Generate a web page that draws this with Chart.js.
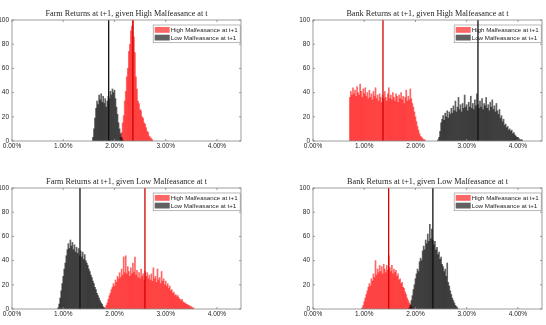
<!DOCTYPE html>
<html><head><meta charset="utf-8">
<script src="https://cdn.jsdelivr.net/npm/chart.js@4.4.1/dist/chart.umd.min.js"></script>
<style>
html,body{margin:0;padding:0;background:#fff;}
body{width:546px;height:325px;overflow:hidden;position:relative;}
canvas{position:absolute;}
</style></head><body>
<canvas id="c1" width="255" height="159" style="left:-12px;top:0px;width:255px;height:159px"></canvas>
<canvas id="c2" width="255" height="159" style="left:289px;top:0px;width:255px;height:159px"></canvas>
<canvas id="c3" width="255" height="159" style="left:-12px;top:168px;width:255px;height:159px"></canvas>
<canvas id="c4" width="255" height="159" style="left:289px;top:168px;width:255px;height:159px"></canvas>
<script>
// ---------- data ----------
const binWidth = 0.02;               // histogram bin width, in percent
const xTicks = [0, 1, 2, 3, 4];      // x tick values (percent)
const yTicks = [0, 20, 40, 60, 80, 100];
const legendLabels = ['High Malfeasance at t+1', 'Low Malfeasance at t+1'];
const titles = [
  'Farm Returns at t+1, given High Malfeasance at t',
  'Bank Returns at t+1, given High Malfeasance at t',
  'Farm Returns at t+1, given Low Malfeasance at t',
  'Bank Returns at t+1, given Low Malfeasance at t'
];

// Panel 1: Farm, High at t
const farmHighRedStart = 2.12;
const farmHighRed = [3,7,15,21,33,41,53,60,74,80,91,95,100,86,73,53,43,33,31,26,25,20,19,15,14,11,8,7,4,3,2,1];
const farmHighBlackStart = 1.58;
const farmHighBlack = [3,10,19,27,33,30,38,34,39,32,37,31,35,28,33,37,35,41,38,43,40,42,35,28,22,15,10,6,3,1];
const farmHighMeans = [2.36, 1.887];

// Panel 2: Bank, High at t
const bankHighRedStart = 0.72;
const bankHighRed = [36,41,38,44,39,42,37,45,40,38,47,41,36,43,39,44,37,40,35,42,
  36,39,34,41,37,44,35,38,33,39,36,32,38,35,41,36,33,39,44,35,
  38,34,40,36,33,39,37,32,38,35,40,34,37,31,36,42,33,37,34,43,
  35,31,28,24,20,16,12,9,6,4,3,2,1,1];
const bankHighBlackStart = 2.44;
const bankHighBlack = [1,3,8,15,18,21,17,23,20,25,19,24,22,27,23,29,25,33,24,28,
  36,26,30,24,31,27,38,28,30,25,32,28,37,27,31,26,34,29,39,30,
  27,33,28,35,26,31,29,36,27,30,25,32,28,34,26,29,24,31,25,22,
  26,19,21,16,18,13,14,11,12,9,10,8,9,6,7,5,4,3,3,2,1,1,1];
const bankHighMeans = [1.366, 3.22];

// Panel 3: Farm, Low at t
const farmLowRedStart = 1.82;
const farmLowRed = [1,3,5,8,11,13,16,18,21,19,24,22,27,25,30,26,33,28,43,30,
  44,29,35,31,27,34,29,38,30,43,28,32,26,30,25,33,27,29,24,31,
  27,30,25,28,24,29,23,34,25,27,22,33,24,26,21,31,23,25,20,23,
  19,21,17,19,15,16,13,14,11,12,10,11,9,8,7,8,6,5,5,4,4,3,3,2,2,1,1];
const farmLowBlackStart = 0.90;
const farmLowBlack = [1,4,9,15,21,27,33,38,44,49,54,50,57,52,55,49,53,47,51,46,
  50,44,48,43,47,41,45,40,38,36,33,31,28,26,23,21,18,16,13,11,9,7,5,4,2,1];
const farmLowMeans = [2.595, 1.327];

// Panel 4: Bank, Low at t
const bankLowRedStart = 0.96;
const bankLowRed = [1,3,6,9,12,15,18,21,19,25,23,29,26,40,28,33,30,36,31,35,
  29,37,33,30,36,32,44,34,31,36,29,33,30,32,27,29,24,25,21,22,
  18,17,14,12,9,7,5,4,2,1];
const bankLowBlackStart = 1.88;
const bankLowBlack = [1,3,7,11,16,20,25,29,33,31,39,42,40,48,52,49,57,54,62,56,
  70,58,66,57,53,56,49,51,45,47,41,43,37,35,31,33,27,38,22,19,
  15,12,9,7,5,3,2,1];
const bankLowMeans = [1.477, 2.34];

// ---------- styling ----------
const RED_FILL = 'rgba(255,0,0,0.6)';
const BLACK_FILL = 'rgba(0,0,0,0.62)';
const RED_LINE = '#d40000';
const BLACK_LINE = '#111111';
const TEXT = '#262626';
const FRAME = '#858585';

Chart.defaults.font.family = "'Liberation Sans', Arial, sans-serif";
Chart.defaults.color = TEXT;

function toBins(start, vals) {
  return vals.map((v, i) => ({ x: Math.round((start + i * binWidth) * 100) / 100, y: v }));
}

const panelPlugin = {
  id: 'panelDeco',
  beforeDatasetsDraw(chart, args, opts) {
    const { ctx, chartArea: a } = chart;
    const bw = 87, bh = 17.7;
    const bx = a.right - bw - 0.8, by = a.top + 5;
    ctx.save();
    ctx.fillStyle = '#ffffff';
    ctx.fillRect(bx, by, bw, bh);
    ctx.strokeStyle = '#9a9a9a';
    ctx.lineWidth = 0.7;
    ctx.strokeRect(bx, by, bw, bh);
    const ds = chart.data.datasets.filter(d => d.type !== 'line');
    ds.forEach((d, i) => {
      const sy = by + 2 + i * 7.7;
      ctx.fillStyle = d.backgroundColor;
      ctx.fillRect(bx + 1.5, sy, 15, 5.8);
      ctx.fillStyle = TEXT;
      ctx.font = "6.2px 'Liberation Sans', Arial, sans-serif";
      ctx.textBaseline = 'middle';
      ctx.textAlign = 'left';
      ctx.fillText(d.label, bx + 17.5, sy + 3.1);
    });
    ctx.restore();
  },
  afterDraw(chart, args, opts) {
    const { ctx, chartArea: a, scales: { x, y } } = chart;
    ctx.save();
    ctx.strokeStyle = FRAME;
    ctx.lineWidth = 0.8;
    ctx.strokeRect(a.left, a.top, a.right - a.left, a.bottom - a.top);
    ctx.beginPath();
    x.ticks.forEach(t => {
      const px = x.getPixelForValue(t.value);
      ctx.moveTo(px, a.bottom); ctx.lineTo(px, a.bottom - 2);
      ctx.moveTo(px, a.top); ctx.lineTo(px, a.top + 2);
    });
    y.ticks.forEach(t => {
      const py = y.getPixelForValue(t.value);
      ctx.moveTo(a.left, py); ctx.lineTo(a.left + 2, py);
      ctx.moveTo(a.right, py); ctx.lineTo(a.right - 2, py);
    });
    ctx.stroke();
    ctx.fillStyle = TEXT;
    ctx.font = "8.2px 'Liberation Serif', 'Times New Roman', serif";
    ctx.textAlign = 'center';
    ctx.textBaseline = 'middle';
    ctx.fillText(opts.title, (a.left + a.right) / 2, a.top - 6);
    ctx.restore();
  }
};

function makePanel(id, title, redStart, red, blackStart, black, means) {
  const barCommon = { barPercentage: 1, categoryPercentage: 1, grouped: false, borderWidth: 0 };
  new Chart(document.getElementById(id), {
    type: 'bar',
    data: {
      datasets: [
        { type: 'line', label: 'mean high', data: [{ x: means[0], y: 0 }, { x: means[0], y: 100 }],
          borderColor: RED_LINE, borderWidth: 1.3, pointRadius: 0, fill: false, order: 0 },
        { type: 'line', label: 'mean low', data: [{ x: means[1], y: 0 }, { x: means[1], y: 100 }],
          borderColor: BLACK_LINE, borderWidth: 1.3, pointRadius: 0, fill: false, order: 0 },
        Object.assign({ label: legendLabels[0], data: toBins(redStart, red), backgroundColor: RED_FILL, order: 2 }, barCommon),
        Object.assign({ label: legendLabels[1], data: toBins(blackStart, black), backgroundColor: BLACK_FILL, order: 1 }, barCommon)
      ]
    },
    options: {
      responsive: false,
      animation: false,
      devicePixelRatio: 1,
      layout: { padding: { top: 20, right: 2, bottom: 4, left: 0 } },
      plugins: { legend: { display: false }, tooltip: { enabled: false }, panelDeco: { title } },
      scales: {
        x: {
          type: 'linear', min: 0, max: 4.47, offset: false,
          grid: { display: false, drawTicks: false, offset: false },
          border: { display: false },
          afterBuildTicks: s => { s.ticks = xTicks.map(v => ({ value: v })); },
          ticks: { includeBounds: false, padding: 1, maxRotation: 0, autoSkip: false,
                   font: { size: 6.5 }, color: TEXT, callback: v => v.toFixed(2) + '%' },
          afterFit: s => { s.height = 14; }
        },
        y: {
          min: 0, max: 100,
          grid: { display: false, drawTicks: false },
          border: { display: false },
          afterBuildTicks: s => { s.ticks = yTicks.map(v => ({ value: v })); },
          ticks: { padding: 3, font: { size: 6.5 }, color: TEXT, autoSkip: false },
          afterFit: s => { s.width = 24; }
        }
      }
    },
    plugins: [panelPlugin]
  });
}

makePanel('c1', titles[0], farmHighRedStart, farmHighRed, farmHighBlackStart, farmHighBlack, farmHighMeans);
makePanel('c2', titles[1], bankHighRedStart, bankHighRed, bankHighBlackStart, bankHighBlack, bankHighMeans);
makePanel('c3', titles[2], farmLowRedStart, farmLowRed, farmLowBlackStart, farmLowBlack, farmLowMeans);
makePanel('c4', titles[3], bankLowRedStart, bankLowRed, bankLowBlackStart, bankLowBlack, bankLowMeans);
</script>
</body></html>
